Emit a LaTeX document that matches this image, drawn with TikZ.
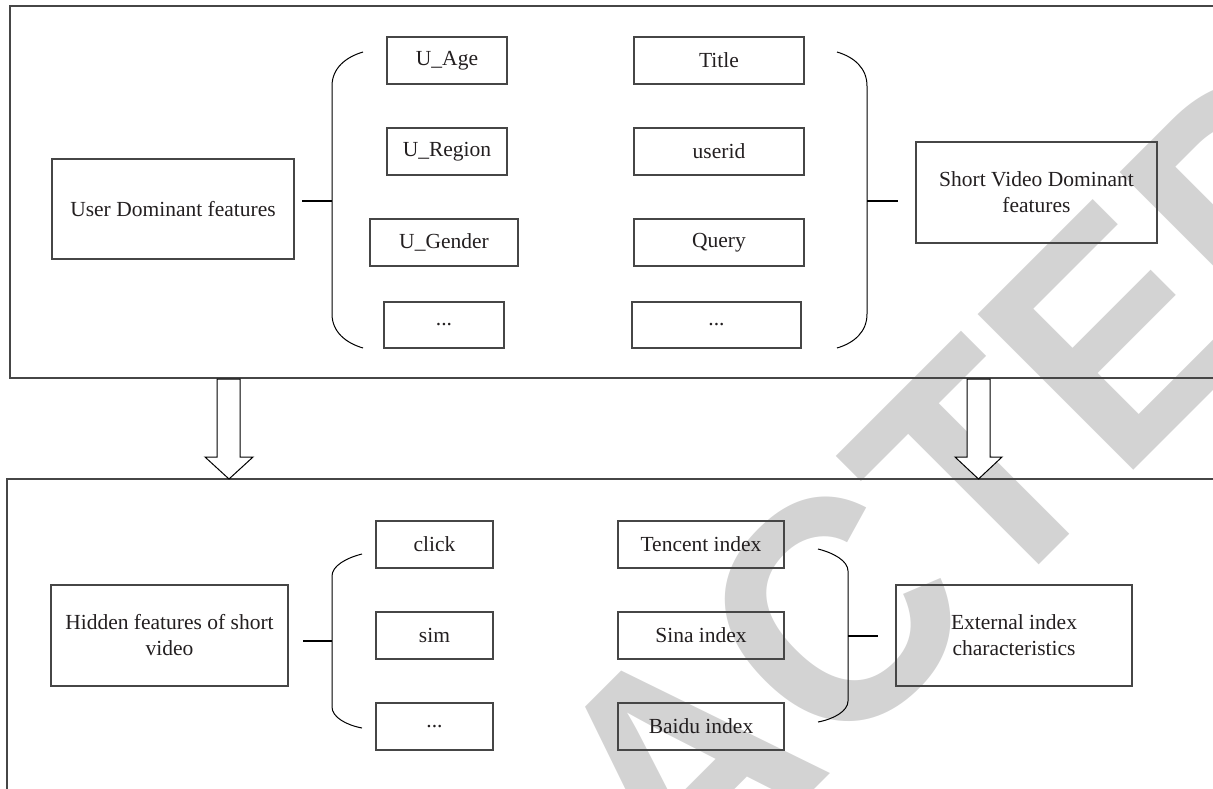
\documentclass[tikz,border=0pt]{standalone}
\usepackage{fontspec}
\setmainfont{Liberation Serif}
\newfontfamily\wmfont{Liberation Sans}
\definecolor{wmgray}{RGB}{211,211,211}
\definecolor{lngray}{RGB}{70,70,70}
\definecolor{txt}{RGB}{35,31,32}
\begin{document}
\begin{tikzpicture}[x=1pt,y=-1pt,
  featbox/.style={draw=lngray, line width=1.1pt, fill=none, minimum height=47pt,
    inner sep=0pt, font=\fontsize{21.5}{26}\selectfont, text=txt, align=center},
  bigbox/.style={featbox, minimum height=101pt},
  frame/.style={draw=lngray, line width=1.3pt},
  conn/.style={draw=black, line width=1.5pt},
  bracepath/.style={draw=black, line width=1pt},
  blockarrow/.style={draw=black, line width=1pt, fill=white, line join=miter}]
\useasboundingbox (0,0) rectangle (1213,788);
\clip (0,0) rectangle (1213,788);
% watermark
\node[rotate=45, xscale=0.94, anchor=base west, inner sep=0pt, text=wmgray,
  font=\wmfont\bfseries\fontsize{320}{320}\selectfont] (wm) at (835.7,768.3)
  {\makebox[0pt][r]{RETRA}CTED};
% outer frames
\draw[frame] (1214,6) -- (10,6) -- (10,378) -- (1214,378);
\draw[frame] (1214,479) -- (7,479) -- (7,790);
% top group
\node[bigbox, minimum width=242pt, minimum height=100pt] (ud) at (173,209) {User Dominant features};
\node[featbox, minimum width=120pt] (uage) at (447,60.5) {U\_Age};
\node[featbox, minimum width=120pt] (ureg) at (447,151.5) {U\_Region};
\node[featbox, minimum width=148pt] (ugen) at (444,242.5) {U\_Gender};
\node[featbox, minimum width=120pt, minimum height=46pt] (udots) at (444,325) {...};
\node[featbox, minimum width=170pt] (title) at (719,60.5) {Title};
\node[featbox, minimum width=170pt] (userid) at (719,151.5) {userid};
\node[featbox, minimum width=170pt] (query) at (719,242.5) {Query};
\node[featbox, minimum width=169pt, minimum height=46pt] (vdots) at (716.5,325) {...};
\node[bigbox, minimum width=241pt] (sv) at (1036.5,192.5) {Short Video Dominant\\features};
% top braces
\draw[bracepath] (363,52) .. controls (346,57) and (332,68) .. (332,86) -- (332,314)
  .. controls (332,332) and (346,343) .. (363,348);
\draw[bracepath] (837,52) .. controls (854,57) and (867,68) .. (867,86) -- (867,314)
  .. controls (867,332) and (854,343) .. (837,348);
\coordinate (ca1) at (302,201); \coordinate (cb1) at (332,201);
\coordinate (ca2) at (867,201); \coordinate (cb2) at (898,201);
\draw[conn] (ca1) -- (cb1);
\draw[conn] (ca2) -- (cb2);
% block arrows
\draw[blockarrow] (217,379) -- (217,457) -- (205,457) -- (229,479) -- (253,457) -- (240,457) -- (240,379) -- cycle;
\draw[blockarrow] (967,379) -- (967,457) -- (955,457) -- (978.5,479) -- (1002,457) -- (990,457) -- (990,379) -- cycle;
% bottom group
\node[bigbox, minimum width=237pt] (hid) at (169.5,635.5) {Hidden features of short\\video};
\node[featbox, minimum width=117pt] (click) at (434.5,544.5) {click};
\node[featbox, minimum width=117pt] (sim) at (434.5,635.5) {sim};
\node[featbox, minimum width=117pt] (hdots) at (434.5,726.5) {...};
\node[featbox, minimum width=166pt] (tenc) at (701,544.5) {Tencent index};
\node[featbox, minimum width=166pt] (sina) at (701,635.5) {Sina index};
\node[featbox, minimum width=166pt] (baidu) at (701,726.5) {Baidu index};
\node[bigbox, minimum width=236pt] (ext) at (1014,635.5) {External index\\characteristics};
% bottom braces
\draw[bracepath] (362,554) .. controls (346,558) and (332,566) .. (332,576) -- (332,707)
  .. controls (332,717) and (346,725) .. (362,728);
\draw[bracepath] (818,549) .. controls (834,553) and (848,561) .. (848,571) -- (848,701)
  .. controls (848,711) and (834,719) .. (818,722);
\coordinate (ca3) at (303,641); \coordinate (cb3) at (332,641);
\coordinate (ca4) at (848,636); \coordinate (cb4) at (878,636);
\draw[conn] (ca3) -- (cb3);
\draw[conn] (ca4) -- (cb4);
\end{tikzpicture}
\end{document}
